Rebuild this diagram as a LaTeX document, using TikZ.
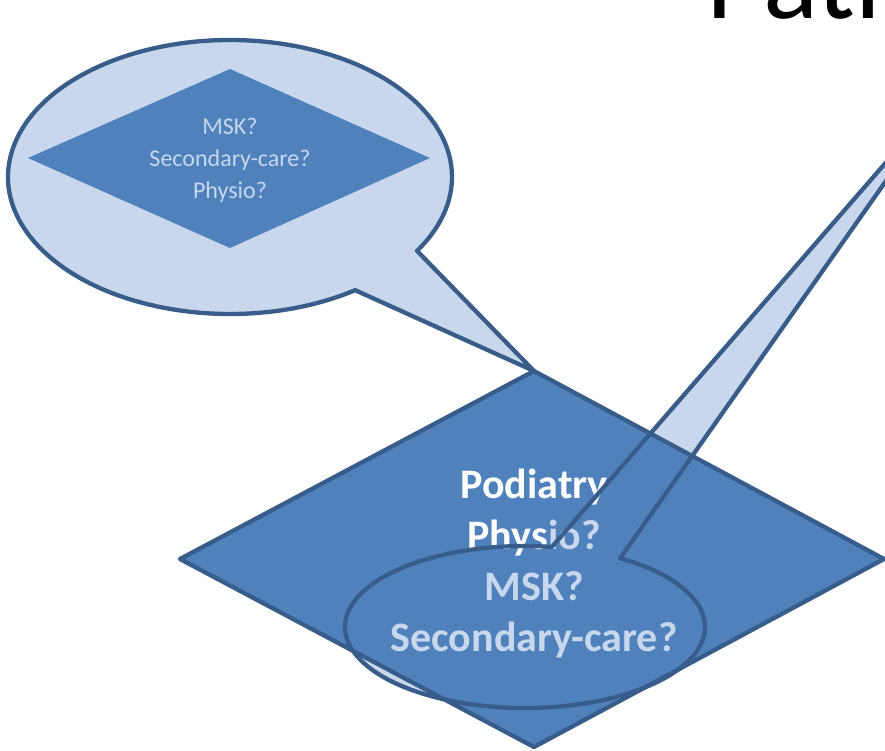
\documentclass[tikz,border=0pt]{standalone}
\usepackage{fontspec}
\setmainfont{Carlito}
\definecolor{boxblue}{HTML}{4F81BD}
\definecolor{edgeblue}{HTML}{385D8A}
\definecolor{paleblue}{HTML}{C8D7EB}
\tikzset{
  bubble/.style={fill=paleblue},
  outline/.style={draw=edgeblue, line width=4.3pt, line join=round},
  decision/.style={fill=boxblue},
}
\begin{document}
\begin{tikzpicture}[x=1pt, y=-1pt]
    \useasboundingbox (0,0) rectangle (885,751);
    % corners of the large decision
    \coordinate (top) at (534,371);
    \coordinate (left) at (180,559);
    \coordinate (right) at (884,559);
    \coordinate (bottom) at (534,747);
    \coordinate (upper bubble) at (230,177);
    \coordinate (lower bubble) at (525,627);
    \coordinate (pointer) at (955,83);

    % upper speech bubble with its small decision
    \draw[bubble, outline] (upper bubble) ++(55.7:222 and 137)
        arc[start angle=55.7, end angle=392.6, x radius=222, y radius=137]
        -- (top) -- cycle;
    \fill[decision] (230,69) -- (28,158) -- (230,248) -- (430,158) -- cycle;
    \node[align=center, inner sep=0, text=paleblue,
          font=\fontsize{24}{32}\selectfont] (ask) at (230,160)
        {MSK?\\Secondary-care?\\Physio?};

    % lower speech bubble, fill behind the decision
    \fill[bubble] (lower bubble) ++(-58.1:180 and 81)
        arc[start angle=-58.1, end angle=278.6, x radius=180, y radius=81]
        -- (pointer) -- cycle;

    % large decision
    \draw[decision, outline] (top) -- (left) -- (bottom) -- (right) -- cycle;
    \node[align=center, inner sep=0, text=white,
          font=\bfseries\fontsize{42}{51}\selectfont] (podiatry) at (534,564)
        {Podiatry\\Phys\textcolor{paleblue}{io?}\\\textcolor{paleblue}{MSK?}\\\textcolor{paleblue}{Secondary-care?}};

    % lower speech bubble, outline on top
    \draw[outline] (lower bubble) ++(-58.1:180 and 81)
        arc[start angle=-58.1, end angle=278.6, x radius=180, y radius=81]
        -- (pointer) -- cycle;

    \node[anchor=base west, inner sep=0,
          font=\fontsize{115}{138}\selectfont] (title) at (706,19) {Pati};
\end{tikzpicture}
\end{document}
